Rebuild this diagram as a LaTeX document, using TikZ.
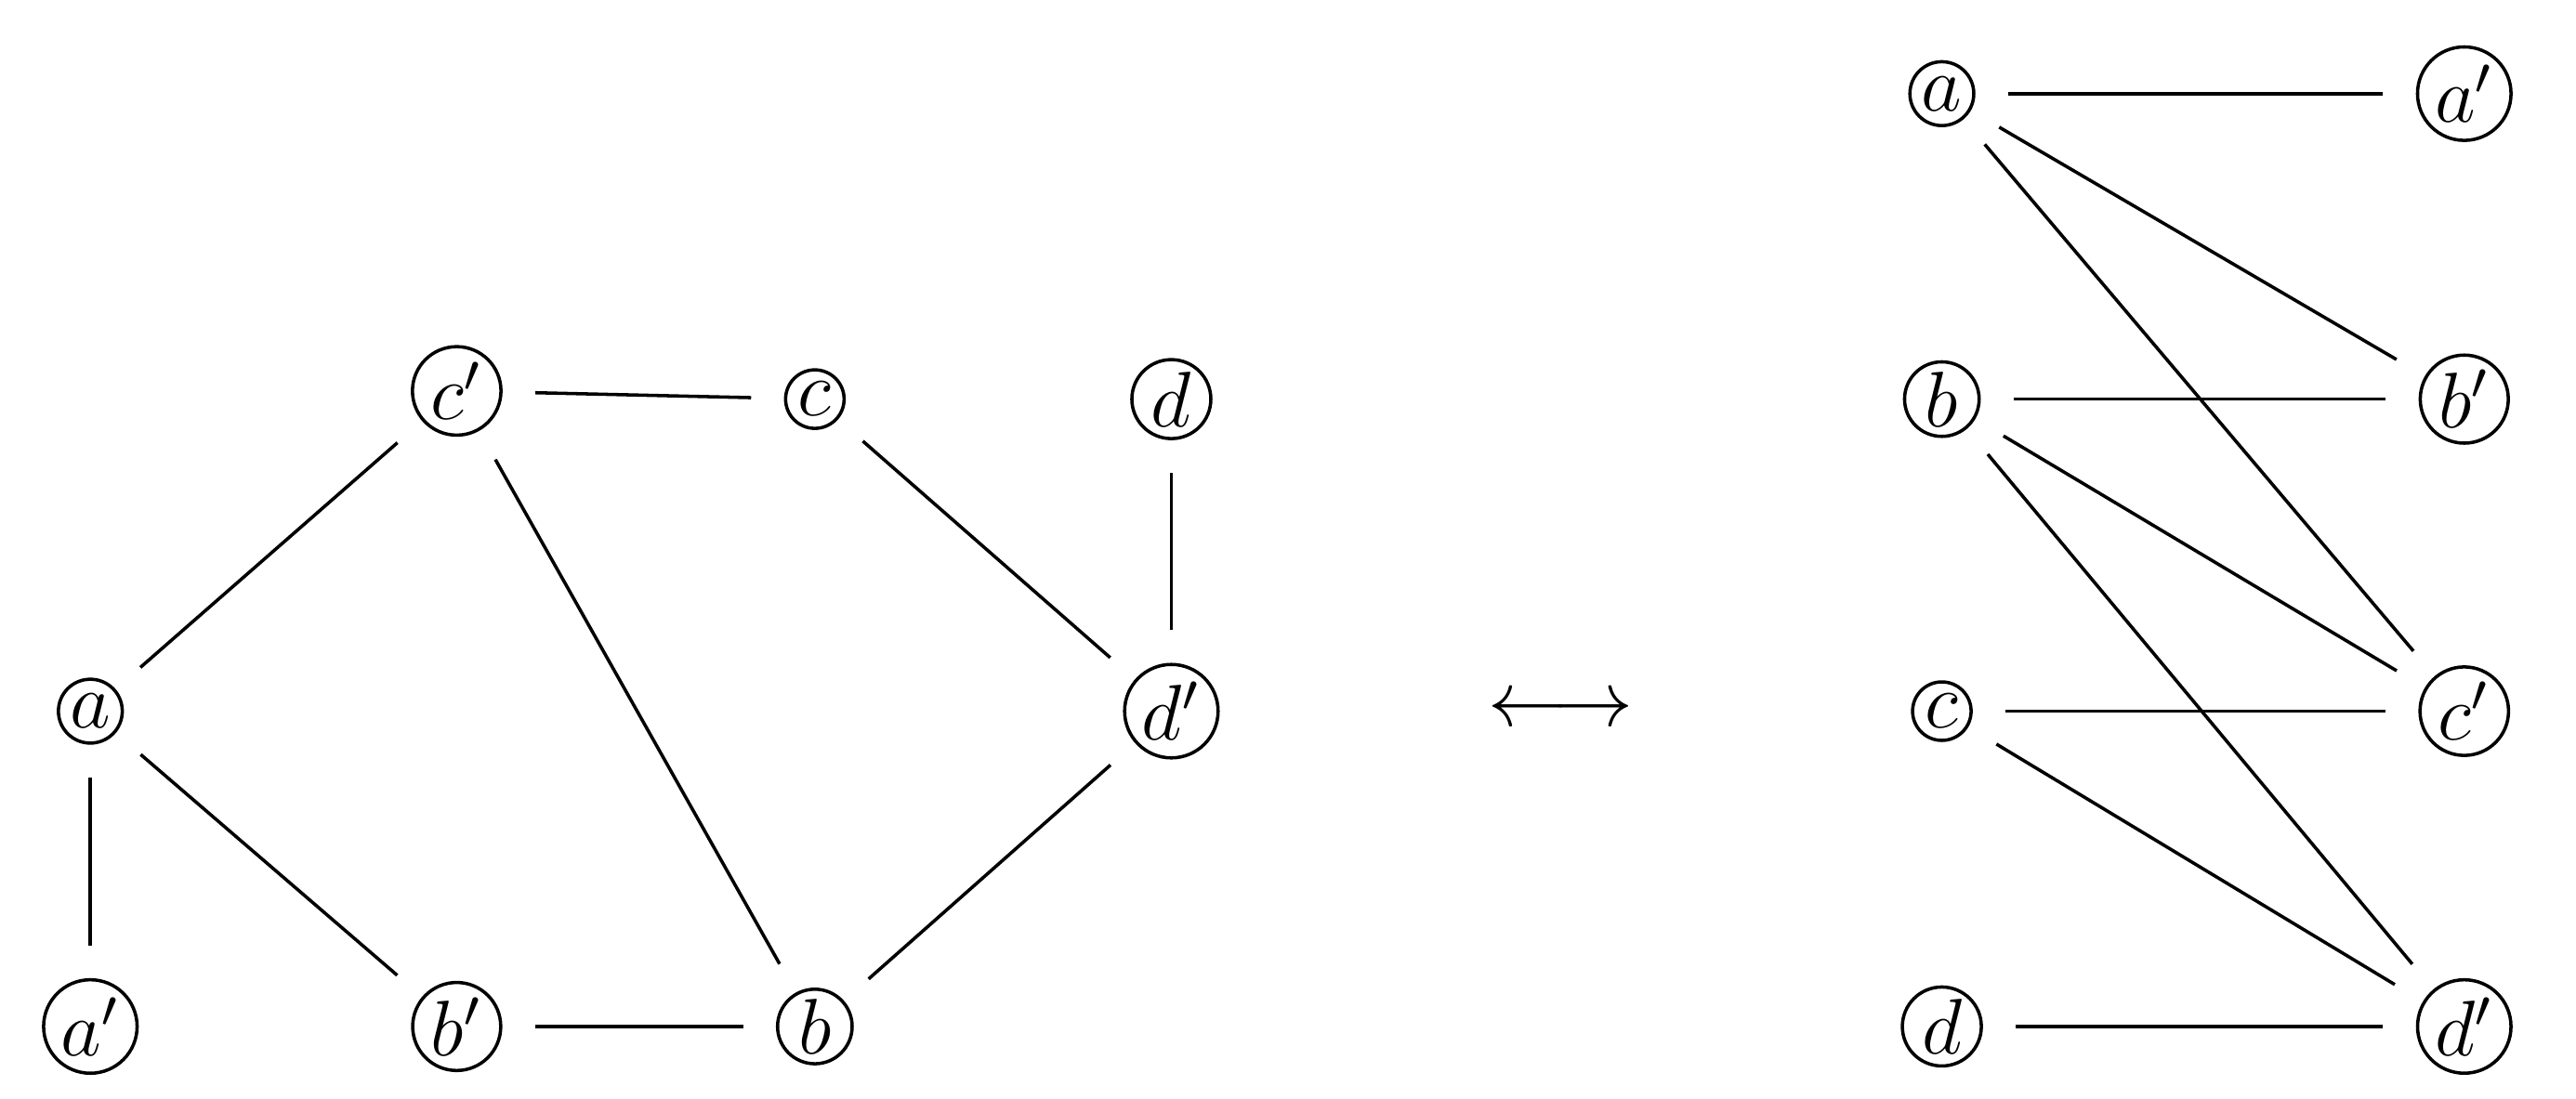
\documentclass[tikz,border=0pt]{standalone}
\begin{document}
\begin{tikzpicture}[x=0.25pt,y=-0.25pt,
  v/.style={draw,circle,inner sep=0.6pt,font=\large,line width=0.5pt},
  e/.style={line width=0.5pt,shorten <=5pt,shorten >=5pt}]
\useasboundingbox (0,0) rectangle (1568,669);
\node[v] (a) at (55,433) {$a$};
\node[v] (ap) at (55,625) {$a'$};
\node[v] (cp) at (278,238) {$c'$};
\node[v] (c) at (496,243) {$c$};
\node[v] (d) at (713,243) {$d$};
\node[v] (dp) at (713,433) {$d'$};
\node[v] (bp) at (278,625) {$b'$};
\node[v] (b) at (496,625) {$b$};
\draw[e] (a)--(ap); \draw[e] (a)--(cp); \draw[e] (a)--(bp);
\draw[e] (cp)--(c); \draw[e] (cp)--(b); \draw[e] (bp)--(b);
\draw[e] (c)--(dp); \draw[e] (d)--(dp); \draw[e] (b)--(dp);
\node[font=\large] (arr) at (950,433) {$\longleftrightarrow$};
\node[v] (ra) at (1182,57) {$a$};
\node[v] (rb) at (1182,243) {$b$};
\node[v] (rc) at (1182,433) {$c$};
\node[v] (rd) at (1182,625) {$d$};
\node[v] (rap) at (1500,57) {$a'$};
\node[v] (rbp) at (1500,243) {$b'$};
\node[v] (rcp) at (1500,433) {$c'$};
\node[v] (rdp) at (1500,625) {$d'$};
\draw[e] (ra)--(rap); \draw[e] (ra)--(rbp); \draw[e] (ra)--(rcp);
\draw[e] (rb)--(rbp); \draw[e] (rb)--(rcp); \draw[e] (rb)--(rdp);
\draw[e] (rc)--(rcp); \draw[e] (rc)--(rdp); \draw[e] (rd)--(rdp);
\end{tikzpicture}
\end{document}
